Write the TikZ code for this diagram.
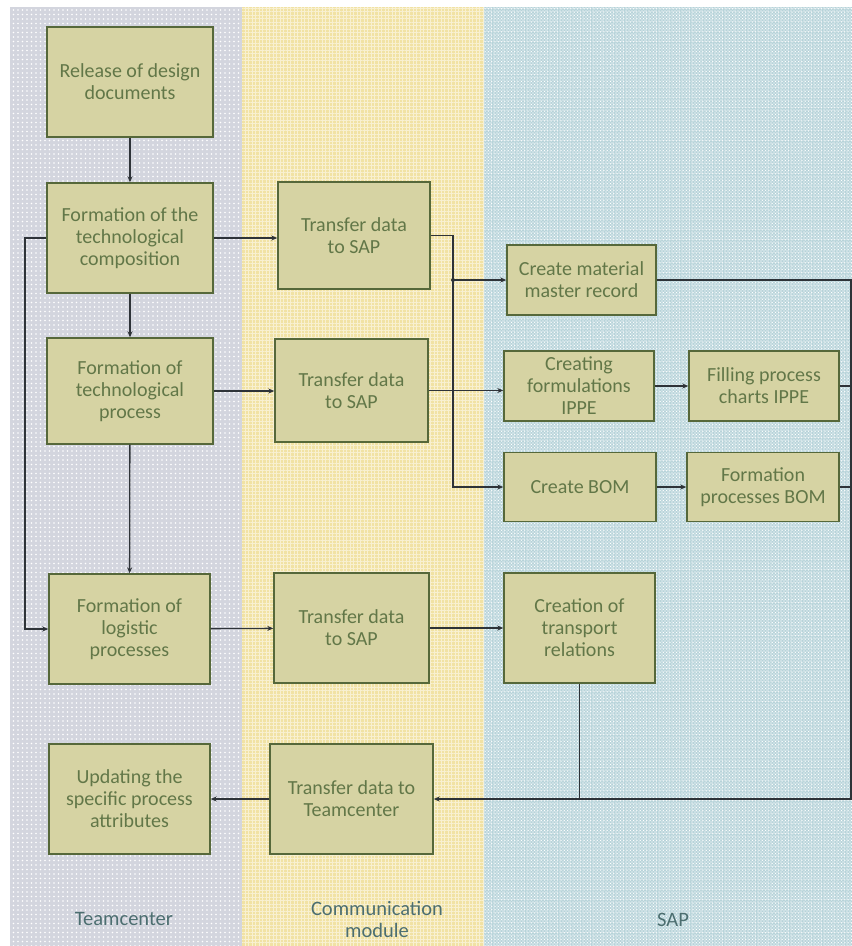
\documentclass[tikz,border=0pt]{standalone}
\usepackage{fontspec}
\setmainfont{Carlito}
\usetikzlibrary{arrows.meta,patterns.meta}
\definecolor{greylane}{HTML}{D3D5DE}
\definecolor{yellowlane}{HTML}{F1E2A4}
\definecolor{bluelane}{HTML}{CBDFE4}
\definecolor{bluegrid}{HTML}{B6D3D9}
\definecolor{boxfill}{HTML}{D6D3A3}
\definecolor{boxline}{HTML}{56683A}
\definecolor{boxtext}{HTML}{627748}
\definecolor{lanetext}{HTML}{4C6E70}
\definecolor{conn}{HTML}{2E3338}
\tikzset{
  procbox/.style={draw=boxline, line width=1.4pt, fill=boxfill, text=boxtext,
    align=center, inner sep=1pt, font=\fontsize{20}{22}\selectfont},
  arr/.style={draw=conn, line width=1.3pt, -{Stealth[length=6pt,width=5pt]}},
  plain/.style={draw=conn, line width=1.3pt},
  lanelabel/.style={text=lanetext, align=center, font=\fontsize{20.5}{22}\selectfont}
}
\begin{document}
\begin{tikzpicture}[x=1pt,y=-1pt]
\useasboundingbox (0,0) rectangle (852,946);
\fill[white] (0,0) rectangle (852,946);
% lanes
\fill[greylane] (10,7) rectangle (242,946);
\fill[pattern={Dots[distance=4.5pt,radius=0.9pt]}, pattern color=white] (10,7) rectangle (242,946);
\fill[yellowlane] (242,7) rectangle (484,946);
\fill[pattern={Hatch[angle=0,distance=3.5pt,line width=0.4pt]}, pattern color=white!50!yellowlane] (242,7) rectangle (484,946);
\fill[bluelane] (484,7) rectangle (852,946);
\fill[pattern={Hatch[angle=0,distance=3.3pt,line width=0.4pt]}, pattern color=bluegrid] (484,7) rectangle (852,946);
\fill[pattern={Dots[distance=3.3pt,radius=0.75pt]}, pattern color=white] (484,7) rectangle (852,946);
% lane labels
\node[lanelabel] (lt) at (124,919) {Teamcenter};
\node[lanelabel] (lc) at (377,919) {Communication\\module};
\node[lanelabel] (ls) at (673,920) {SAP};
% boxes
\node[procbox, minimum width=166pt, minimum height=110pt] (rel) at (130,82) {Release of design\\documents};
\node[procbox, minimum width=166pt, minimum height=110pt] (comp) at (130,238) {Formation of the\\technological\\composition};
\node[procbox, minimum width=152pt, minimum height=107pt] (t1) at (354,235.5) {Transfer data\\to SAP};
\node[procbox, minimum width=166pt, minimum height=106pt] (proc) at (130,391) {Formation of\\technological\\process};
\node[procbox, minimum width=153pt, minimum height=103pt] (t2) at (351.5,390.5) {Transfer data\\to SAP};
\node[procbox, minimum width=161pt, minimum height=110pt] (log) at (129.5,629) {Formation of\\logistic\\processes};
\node[procbox, minimum width=155pt, minimum height=110pt] (t3) at (351.5,628) {Transfer data\\to SAP};
\node[procbox, minimum width=151pt, minimum height=110pt] (ctr) at (579.5,628) {Creation of\\transport\\relations};
\node[procbox, minimum width=161pt, minimum height=110pt] (upd) at (129.5,799) {Updating the\\specific process\\attributes};
\node[procbox, minimum width=163pt, minimum height=110pt] (ttc) at (351.5,799) {Transfer data to\\Teamcenter};
\node[procbox, minimum width=149pt, minimum height=70pt] (cmm) at (581.5,280) {Create material\\master record};
\node[procbox, minimum width=150pt, minimum height=70pt] (cf) at (579,386) {Creating\\formulations\\IPPE};
\node[procbox, minimum width=150pt, minimum height=70pt] (fp) at (764,386) {Filling process\\charts IPPE};
\node[procbox, minimum width=152pt, minimum height=69pt] (cb) at (580,487) {Create BOM};
\node[procbox, minimum width=152pt, minimum height=69pt] (fb) at (763,487) {Formation\\processes BOM};
% helper coordinates
\coordinate (ja) at (453,280);
\coordinate (jb) at (453,487);
\coordinate (lx) at (25,238);
\coordinate (rt) at (851,280);
\coordinate (rb) at (851,799);
% connectors
\draw[arr] (rel) -- (comp);
\draw[arr] (comp) -- (proc);
\draw[arr] (proc) -- (log);
\draw[arr] (comp.east) -- (comp.east -| t1.west);
\draw[arr] (proc.east) -- (proc.east -| t2.west);
\draw[arr] (comp.west) -- (lx) |- (log.west);
\draw[arr] (log) -- (t3);
\draw[arr] (t3) -- (ctr);
\draw[arr] (t1.east) -| (jb) -- (cb.west);
\draw[arr] (ja) -- (cmm.west);
\fill[conn] (ja) circle (2pt);
\draw[arr] (t2.east) -- (t2.east -| cf.west);
\draw[arr] (cf) -- (fp);
\draw[arr] (cb) -- (fb);
\draw[arr] (cmm.east) -- (rt) -- (rb) -- (ttc.east);
\draw[plain] (fp.east) -- (fp.east -| rt);
\draw[plain] (fb.east) -- (fb.east -| rt);
\draw[plain] (ctr.south) -- (ctr.south |- rb);
\draw[arr] (ttc) -- (upd);
\end{tikzpicture}
\end{document}
